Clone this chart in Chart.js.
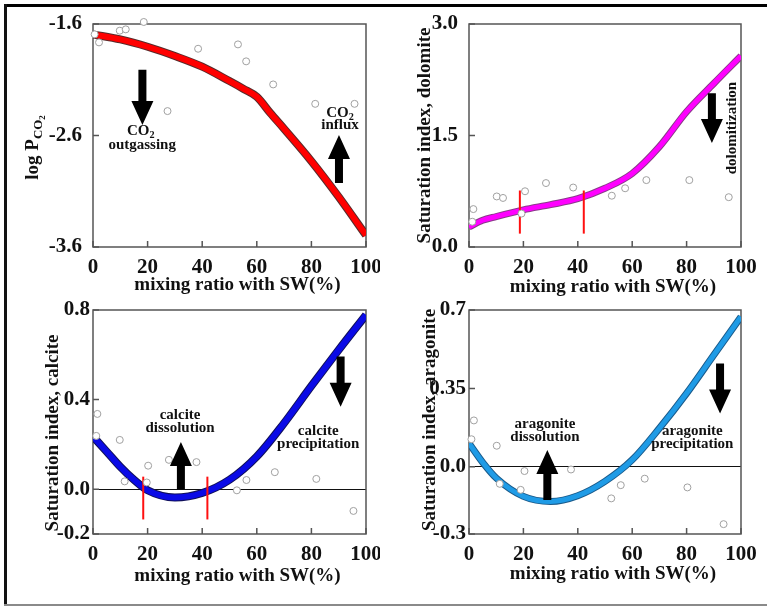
<!DOCTYPE html>
<html>
<head>
<meta charset="utf-8">
<script src="https://cdn.jsdelivr.net/npm/chart.js@4.4.0/dist/chart.umd.min.js"></script>
<style>
body { margin: 0; background: #fff; }
#wrap { position: relative; width: 767px; height: 609px; overflow: hidden; background: #fff; }
.panel { position: absolute; }
.bar { position: absolute; z-index: 5; }
</style>
</head>
<body>
<div id="wrap">
  <div class="bar" style="left:4px;top:4px;width:763px;height:3px;background:#000"></div>
  <div class="bar" style="left:4px;top:4px;width:3px;height:600px;background:#111"></div>
  <div class="bar" style="left:4px;top:604px;width:763px;height:2px;background:#8a8a8a"></div>
  <div class="panel" style="left:8px;top:8px;width:372px;height:296px"><canvas id="pco2Chart"></canvas></div>
  <div class="panel" style="left:384px;top:8px;width:383px;height:296px"><canvas id="dolChart"></canvas></div>
  <div class="panel" style="left:8px;top:300px;width:372px;height:300px"><canvas id="calChart"></canvas></div>
  <div class="panel" style="left:384px;top:300px;width:383px;height:300px"><canvas id="araChart"></canvas></div>
</div>
<script>
// shared x axis: mixing ratio with seawater (%)
var xTicks = [0, 20, 40, 60, 80, 100];
var xTitle = 'mixing ratio with SW(%)';

// log PCO2
var pco2CurveX = [0, 10, 20, 30, 40, 50, 55, 60, 65, 70, 80, 90, 100];
var pco2CurveY = [-1.693, -1.738, -1.804, -1.887, -1.983, -2.112, -2.18, -2.253, -2.40, -2.54, -2.83, -3.15, -3.495];
var pco2SampleX = [0.6, 2.2, 9.8, 12.0, 18.6, 27.3, 38.5, 53.1, 56.1, 66.0, 81.4, 95.8];
var pco2SampleY = [-1.693, -1.765, -1.66, -1.648, -1.582, -2.381, -1.822, -1.783, -1.935, -2.142, -2.316, -2.316];
var pco2Ticks = [-3.6, -2.6, -1.6];
var pco2TickLabels = ['-3.6', '-2.6', '-1.6'];

// dolomite
var dolCurveX = [0, 5, 10, 20, 30, 40, 50, 60, 70, 80, 90, 100];
var dolCurveY = [0.27, 0.36, 0.41, 0.50, 0.57, 0.65, 0.79, 0.99, 1.35, 1.82, 2.20, 2.57];
var dolSampleX = [1.2, 1.6, 10.2, 12.5, 19.3, 20.6, 28.3, 38.3, 52.5, 57.4, 65.2, 81.0, 95.5];
var dolSampleY = [0.34, 0.51, 0.68, 0.66, 0.45, 0.75, 0.86, 0.80, 0.69, 0.79, 0.90, 0.90, 0.67];
var dolTicks = [0, 1.5, 3.0];
var dolTickLabels = ['0.0', '1.5', '3.0'];
var dolBreaksX = [18.7, 42.2];
var dolBreakY = [0.18, 0.76];

// calcite
var calCurveX = [0, 5, 10, 15, 20, 30, 40, 50, 60, 70, 80, 90, 100];
var calCurveY = [0.235, 0.168, 0.10, 0.042, -0.005, -0.037, -0.017, 0.042, 0.146, 0.295, 0.461, 0.622, 0.778];
var calSampleX = [1.6, 1.2, 9.8, 11.6, 19.7, 20.2, 27.8, 37.9, 52.7, 56.2, 66.6, 81.8, 95.4];
var calSampleY = [0.336, 0.238, 0.220, 0.035, 0.030, 0.105, 0.131, 0.121, -0.005, 0.041, 0.076, 0.046, -0.097];
var calTicks = [-0.2, 0, 0.4, 0.8];
var calTickLabels = ['-0.2', '0.0', '0.4', '0.8'];
var calBreaksX = [18.4, 41.9];
var calBreakY = [-0.135, 0.056];

// aragonite
var araCurveX = [0, 5, 10, 20, 30, 40, 50, 60, 70, 80, 90, 100];
var araCurveY = [0.105, 0.02, -0.05, -0.132, -0.155, -0.129, -0.065, 0.031, 0.172, 0.328, 0.499, 0.67];
var araSampleX = [0.9, 1.8, 10.2, 11.3, 19.0, 20.4, 37.5, 52.3, 55.8, 64.6, 80.3, 93.6];
var araSampleY = [0.123, 0.207, 0.094, -0.076, -0.103, -0.019, -0.012, -0.141, -0.082, -0.053, -0.092, -0.256];
var araTicks = [-0.3, 0, 0.35, 0.7];
var araTickLabels = ['-0.3', '0.0', '0.35', '0.7'];

var serif = '"Liberation Serif", "Times New Roman", serif';

function pts(xs, ys) {
    return xs.map(function (x, i) { return { x: x, y: ys[i] }; });
}

// text with chained subscripts: "log P_CO_2"
function drawRich(ctx, txt, x, y, size) {
    var parts = txt.split('_');
    var sizes = [], offs = [], widths = [], total = 0, s = size, off = 0;
    parts.forEach(function (p, i) {
        if (i > 0) { off += s * 0.3; s = s * 0.68; }
        sizes.push(s); offs.push(off);
        ctx.font = 'bold ' + s + 'px ' + serif;
        var w = ctx.measureText(p).width;
        widths.push(w); total += w;
    });
    var cx = x - total / 2;
    ctx.textAlign = 'left';
    ctx.textBaseline = 'middle';
    parts.forEach(function (p, i) {
        ctx.font = 'bold ' + sizes[i] + 'px ' + serif;
        ctx.fillText(p, cx, y + offs[i]);
        cx += widths[i];
    });
}

function drawArrow(ctx, x, y1, y2) {
    var dir = y2 > y1 ? 1 : -1;
    var head = 24, hw = 11, sw = 4;
    var yb = y2 - dir * head;
    ctx.beginPath();
    ctx.moveTo(x - sw, y1);
    ctx.lineTo(x + sw, y1);
    ctx.lineTo(x + sw, yb);
    ctx.lineTo(x + hw, yb);
    ctx.lineTo(x, y2);
    ctx.lineTo(x - hw, yb);
    ctx.lineTo(x - sw, yb);
    ctx.closePath();
    ctx.fillStyle = '#000';
    ctx.fill();
}

function makePanel(id, p) {
    var curve = pts(p.curveX, p.curveY);
    var datasets = [{
        data: pts(p.sampleX, p.sampleY), showLine: false, clip: false,
        pointRadius: 3.5, pointBorderWidth: 1, pointBorderColor: '#a0a0a0',
        pointBackgroundColor: '#fff', order: 0
    }];
    (p.breaksX || []).forEach(function (bx) {
        datasets.push({
            data: [{ x: bx, y: p.breakY[0] }, { x: bx, y: p.breakY[1] }],
            borderColor: '#ff1010', borderWidth: 2, pointRadius: 0, order: 1
        });
    });
    datasets.push({
        data: curve, borderColor: p.color, borderWidth: p.width,
        cubicInterpolationMode: 'monotone', pointRadius: 0, order: 2
    });
    datasets.push({
        data: curve, borderColor: p.edge, borderWidth: p.width + 2,
        cubicInterpolationMode: 'monotone', pointRadius: 0, order: 3
    });

    var decor = {
        id: 'decor',
        beforeDatasetsDraw: function (chart) {
            var ctx = chart.ctx, a = chart.chartArea;
            var xs = chart.scales.x, ys = chart.scales.y;
            ctx.save();
            ctx.strokeStyle = '#555';
            ctx.lineWidth = 1.5;
            ctx.strokeRect(a.left, a.top, a.right - a.left, a.bottom - a.top);
            // inward tick marks
            ctx.beginPath();
            xs.ticks.forEach(function (t) {
                var px = xs.getPixelForValue(t.value);
                ctx.moveTo(px, a.bottom); ctx.lineTo(px, a.bottom - 6);
            });
            ys.ticks.forEach(function (t) {
                var py = ys.getPixelForValue(t.value);
                ctx.moveTo(a.left, py); ctx.lineTo(a.left + 6, py);
            });
            ctx.stroke();
            ctx.restore();
        },
        afterDatasetsDraw: function (chart) {
            var ctx = chart.ctx, a = chart.chartArea;
            var xs = chart.scales.x, ys = chart.scales.y;
            ctx.save();
            p.arrows.forEach(function (ar) {
                drawArrow(ctx, xs.getPixelForValue(ar.x), ys.getPixelForValue(ar.from), ys.getPixelForValue(ar.to));
            });
            ctx.fillStyle = '#111';
            p.notes.forEach(function (n) {
                var px = xs.getPixelForValue(n.x), py = ys.getPixelForValue(n.y);
                if (n.rot) {
                    ctx.save();
                    ctx.translate(px, py);
                    ctx.rotate(-Math.PI / 2);
                    drawRich(ctx, n.t, 0, 0, 15);
                    ctx.restore();
                } else {
                    drawRich(ctx, n.t, px, py, 15);
                }
            });
            // axis titles
            drawRich(ctx, xTitle, (a.left + a.right) / 2 + 8, a.bottom + p.xTitleDy, 19);
            ctx.translate(a.left - p.yTitleDx, (a.top + a.bottom) / 2 + p.yTitleDy);
            ctx.rotate(-Math.PI / 2);
            drawRich(ctx, p.yTitle, 0, 0, 19);
            ctx.restore();
        }
    };

    var tickFont = { family: serif, size: 21, weight: 'bold' };
    return new Chart(document.getElementById(id).getContext('2d'), {
        type: 'line',
        data: { datasets: datasets },
        options: {
            responsive: true, maintainAspectRatio: false, animation: false,
            layout: { padding: { top: p.padTop, right: p.padRight, left: 0, bottom: 0 } },
            plugins: { legend: { display: false }, tooltip: { enabled: false } },
            scales: {
                x: {
                    type: 'linear', min: 0, max: 100,
                    afterBuildTicks: function (s) { s.ticks = xTicks.map(function (v) { return { value: v }; }); },
                    afterFit: function (s) { s.height = p.xAxisH; s.paddingLeft = 0; s.paddingRight = 0; },
                    grid: { display: false }, border: { display: false },
                    ticks: { padding: 0, font: tickFont, color: '#111', maxRotation: 0, autoSkip: false }
                },
                y: {
                    type: 'linear', min: p.ticks[0], max: p.ticks[p.ticks.length - 1],
                    afterBuildTicks: function (s) { s.ticks = p.ticks.map(function (v) { return { value: v }; }); },
                    afterFit: function (s) { s.width = 85; s.paddingTop = 0; s.paddingBottom = 0; },
                    grid: p.zeroLine ? {
                        drawTicks: false, lineWidth: 1,
                        color: function (c) { return c.tick && c.tick.value === 0 ? '#111' : 'rgba(0,0,0,0)'; }
                    } : { display: false },
                    border: { display: false },
                    ticks: {
                        padding: 3, font: tickFont, color: '#111', autoSkip: false,
                        callback: function (v, i) { return p.tickLabels[i]; }
                    }
                }
            }
        },
        plugins: [decor]
    });
}

var pco2Chart = makePanel('pco2Chart', {
    curveX: pco2CurveX, curveY: pco2CurveY, sampleX: pco2SampleX, sampleY: pco2SampleY,
    ticks: pco2Ticks, tickLabels: pco2TickLabels,
    color: '#ff0000', edge: '#5a2a2a', width: 6,
    padTop: 16, padRight: 14, xAxisH: 57, xTitleDy: 38,
    yTitle: 'log P_CO_2', yTitleDx: 60, yTitleDy: 12,
    arrows: [{ x: 18.1, from: -2.01, to: -2.506 }, { x: 90.1, from: -3.026, to: -2.595 }],
    notes: [
        { x: 17.5, y: -2.56, t: 'CO_2' }, { x: 18, y: -2.685, t: 'outgassing' },
        { x: 90.5, y: -2.398, t: 'CO_2' }, { x: 90.5, y: -2.506, t: 'influx' }
    ]
});

var dolChart = makePanel('dolChart', {
    curveX: dolCurveX, curveY: dolCurveY, sampleX: dolSampleX, sampleY: dolSampleY,
    ticks: dolTicks, tickLabels: dolTickLabels, breaksX: dolBreaksX, breakY: dolBreakY,
    color: '#ff00ff', edge: '#8a3a8a', width: 5,
    padTop: 16, padRight: 26, xAxisH: 57, xTitleDy: 40,
    yTitle: 'Saturation index, dolomite', yTitleDx: 44, yTitleDy: 0,
    arrows: [{ x: 89.3, from: 2.07, to: 1.40 }],
    notes: [{ x: 96.7, y: 1.6, t: 'dolomitization', rot: true }]
});

var calChart = makePanel('calChart', {
    curveX: calCurveX, curveY: calCurveY, sampleX: calSampleX, sampleY: calSampleY,
    ticks: calTicks, tickLabels: calTickLabels, breaksX: calBreaksX, breakY: calBreakY,
    color: '#0a0ae6', edge: '#10105a', width: 6, zeroLine: true,
    padTop: 10, padRight: 14, xAxisH: 66, xTitleDy: 42,
    yTitle: 'Saturation index, calcite', yTitleDx: 40, yTitleDy: 11,
    arrows: [{ x: 32.2, from: 0.0, to: 0.211 }, { x: 90.7, from: 0.592, to: 0.368 }],
    notes: [
        { x: 31.9, y: 0.331, t: 'calcite' }, { x: 31.9, y: 0.273, t: 'dissolution' },
        { x: 82.5, y: 0.26, t: 'calcite' }, { x: 82.5, y: 0.20, t: 'precipitation' }
    ]
});

var araChart = makePanel('araChart', {
    curveX: araCurveX, curveY: araCurveY, sampleX: araSampleX, sampleY: araSampleY,
    ticks: araTicks, tickLabels: araTickLabels,
    color: '#1f9be6', edge: '#1a5a8a', width: 5, zeroLine: true,
    padTop: 10, padRight: 26, xAxisH: 66, xTitleDy: 40,
    yTitle: 'Saturation index, aragonite', yTitleDx: 39, yTitleDy: -2,
    arrows: [{ x: 28.8, from: -0.148, to: 0.075 }, { x: 92.3, from: 0.461, to: 0.238 }],
    notes: [
        { x: 27.9, y: 0.191, t: 'aragonite' }, { x: 27.9, y: 0.134, t: 'dissolution' },
        { x: 82.1, y: 0.161, t: 'aragonite' }, { x: 82.1, y: 0.10, t: 'precipitation' }
    ]
});
</script>
</body>
</html>
